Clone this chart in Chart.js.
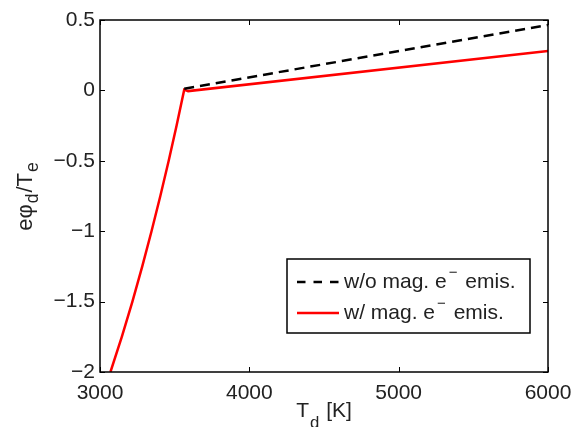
<!DOCTYPE html>
<html>
<head>
<meta charset="utf-8">
<script src="https://cdn.jsdelivr.net/npm/chart.js@4.4.1/dist/chart.umd.min.js"></script>
<style>
  html, body { margin: 0; padding: 0; background: #fff; }
  #wrap { width: 575px; height: 427px; }
</style>
</head>
<body>
<div id="wrap"><canvas id="phi"></canvas></div>
<script>
var FONT = "'Liberation Sans', Arial, Helvetica, sans-serif";

// T_d [K] and e*phi_d/T_e
var tempMag = [3070, 3146, 3217, 3283, 3345, 3404, 3460, 3513, 3564, 3590, 6000];
var phiMag = [-2, -1.75, -1.5, -1.25, -1.0, -0.75, -0.5, -0.25, 0.005, -0.005, 0.28];
var tempNoMag = [3564, 6000];
var phiNoMag = [0.012, 0.465];
var seriesNames = ["w/o mag. e⁻ emis.", "w/ mag. e⁻ emis."];
var xTicks = [3000, 4000, 5000, 6000];
var yTicks = [-2, -1.5, -1, -0.5, 0, 0.5];

function pts(xs, ys) {
  return xs.map(function (x, i) { return { x: x, y: ys[i] }; });
}

function fmt(v) {
  return v < 0 ? "\u2212" + Math.abs(v) : String(v);
}

// draw text pieces, subscripts are smaller and lowered
function richText(ctx, parts, cx, baseY, size, drop) {
  var w = 0;
  parts.forEach(function (p) {
    ctx.font = (p.sub ? size * 0.8 : size) + "px " + FONT;
    p.w = ctx.measureText(p.t).width + (p.sub ? 2 : 0);
    w += p.w;
  });
  var x = cx - w / 2;
  ctx.textAlign = "left";
  ctx.textBaseline = "alphabetic";
  parts.forEach(function (p) {
    ctx.font = (p.sub ? size * 0.8 : size) + "px " + FONT;
    ctx.fillText(p.t, x + (p.sub ? 1 : 0), baseY + (p.sub ? drop : 0));
    x += p.w;
  });
}

var decor = {
  id: "decor",
  afterDatasetsDraw: function (chart) {
    var ctx = chart.ctx, a = chart.chartArea;
    var sx = chart.scales.x, sy = chart.scales.y;
    ctx.save();
    ctx.strokeStyle = "#000";
    ctx.lineWidth = 1.5;
    ctx.strokeRect(a.left, a.top, a.right - a.left, a.bottom - a.top);
    ctx.lineWidth = 1;
    ctx.beginPath();
    xTicks.forEach(function (v) {
      var px = Math.round(sx.getPixelForValue(v)) + 0.5;
      ctx.moveTo(px, a.bottom); ctx.lineTo(px, a.bottom - 5);
      ctx.moveTo(px, a.top); ctx.lineTo(px, a.top + 5);
    });
    yTicks.forEach(function (v) {
      var py = Math.round(sy.getPixelForValue(v)) + 0.5;
      ctx.moveTo(a.left, py); ctx.lineTo(a.left + 5, py);
      ctx.moveTo(a.right, py); ctx.lineTo(a.right - 5, py);
    });
    ctx.stroke();

    ctx.fillStyle = "#222";
    richText(ctx, [{ t: "T" }, { t: "d", sub: true }, { t: " [K]" }], (a.left + a.right) / 2, 417, 21, 11);
    ctx.translate(32, (a.top + a.bottom) / 2);
    ctx.rotate(-Math.PI / 2);
    richText(ctx, [{ t: "e\u03c6" }, { t: "d", sub: true }, { t: "/T" }, { t: "e", sub: true }], 0, 0, 22, 6);
    ctx.restore();
  },
  afterDraw: function (chart) {
    var ctx = chart.ctx;
    ctx.save();
    ctx.fillStyle = "#fff";
    ctx.fillRect(287, 259, 243, 74);
    ctx.strokeStyle = "#000";
    ctx.lineWidth = 1.5;
    ctx.strokeRect(287, 259, 243, 74);
    var rows = [282, 313];
    chart.data.datasets.forEach(function (ds, i) {
      var y = rows[i];
      ctx.strokeStyle = ds.borderColor;
      ctx.lineWidth = ds.borderWidth;
      ctx.setLineDash(ds.borderDash ? [8.5, 8] : []);
      ctx.beginPath();
      ctx.moveTo(297, y); ctx.lineTo(339, y);
      ctx.stroke();
      ctx.setLineDash([]);
      var bits = ds.label.split("\u207b");
      ctx.fillStyle = "#222";
      ctx.textBaseline = "middle";
      ctx.textAlign = "left";
      ctx.font = "21px " + FONT;
      var x = 344;
      ctx.fillText(bits[0], x, y);
      x += ctx.measureText(bits[0]).width + 2;
      ctx.font = "15px " + FONT;
      ctx.fillText("\u2212", x, y - 9);
      x += ctx.measureText("\u2212").width + 2;
      ctx.font = "21px " + FONT;
      ctx.fillText(bits[1], x, y);
    });
    ctx.restore();
  }
};

new Chart(document.getElementById("phi").getContext("2d"), {
  type: "line",
  data: {
    datasets: [
      {
        label: seriesNames[0],
        data: pts(tempNoMag, phiNoMag),
        borderColor: "#000",
        borderWidth: 2.5,
        borderDash: [10, 6],
        pointRadius: 0,
        fill: false,
      },
      {
        label: seriesNames[1],
        data: pts(tempMag, phiMag),
        borderColor: "#ff0000",
        borderWidth: 2.5,
        pointRadius: 0,
        tension: 0,
        fill: false,
      },
    ],
  },
  options: {
    responsive: true,
    maintainAspectRatio: false,
    animation: false,
    devicePixelRatio: 1,
    layout: { padding: { top: 20, right: 27, left: 0, bottom: 0 } },
    plugins: {
      legend: { display: false },
      tooltip: { enabled: false },
    },
    scales: {
      x: {
        type: "linear",
        min: 3000,
        max: 6000,
        afterBuildTicks: function (s) { s.ticks = xTicks.map(function (v) { return { value: v }; }); },
        afterFit: function (s) { s.height = 55; s.paddingLeft = 0; s.paddingRight = 0; },
        grid: { display: false, drawTicks: false },
        border: { display: false },
        ticks: { padding: 9, color: "#222", font: { family: FONT, size: 21 }, maxRotation: 0, callback: fmt },
      },
      y: {
        type: "linear",
        min: -2,
        max: 0.5,
        afterBuildTicks: function (s) { s.ticks = yTicks.map(function (v) { return { value: v }; }); },
        afterFit: function (s) { s.width = 100; s.paddingTop = 0; s.paddingBottom = 0; },
        grid: { display: false, drawTicks: false },
        border: { display: false },
        ticks: { padding: 5, color: "#222", font: { family: FONT, size: 21 }, callback: fmt },
      },
    },
  },
  plugins: [decor],
});
</script>
</body>
</html>
